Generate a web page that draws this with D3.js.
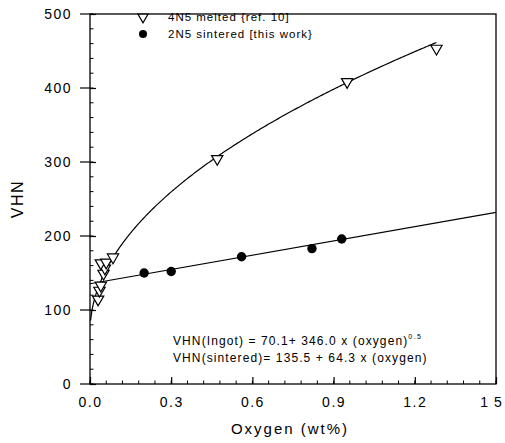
<!DOCTYPE html>
<html>
<head>
<meta charset="utf-8">
<script src="https://cdn.jsdelivr.net/npm/d3@7"></script>
<style>
  body { margin: 0; background: #fff; }
  svg { display: block; font-family: "Liberation Sans", Arial, sans-serif; }
</style>
</head>
<body>
<svg id="chart"></svg>
<script>
// data
const meltedOxygen = [0.030, 0.035, 0.040, 0.050, 0.055, 0.040, 0.060, 0.085, 0.47, 0.95, 1.28];
const meltedVHN    = [113,   125,   132,   148,   155,   162,   163,   170,   303,  407,  452];
const sinteredOxygen = [0.20, 0.30, 0.56, 0.82, 0.93];
const sinteredVHN    = [150,  152,  172,  183,  196];
const xTicks = [0.0, 0.3, 0.6, 0.9, 1.2, 1.5];
const xTickLabels = ["0.0", "0.3", "0.6", "0.9", "1.2", "1 5"];
const yTicks = [0, 100, 200, 300, 400, 500];
const legendLabels = ["4N5 melted {ref. 10]", "2N5 sintered [this work}"];

const width = 505, height = 443;
const margin = { left: 90, right: 9, top: 14, bottom: 59 };

const svg = d3.select("#chart")
    .attr("width", width)
    .attr("height", height);

const x = d3.scaleLinear().domain([0, 1.5]).range([margin.left, width - margin.right]);
const y = d3.scaleLinear().domain([0, 500]).range([height - margin.bottom, margin.top]);

// frame
svg.append("rect")
    .attr("x", x(0)).attr("y", y(500))
    .attr("width", x(1.5) - x(0)).attr("height", y(0) - y(500))
    .attr("fill", "none").attr("stroke", "#000").attr("stroke-width", 1.3);

// minor ticks (inward)
const xMinor = d3.range(0, 1.5001, 0.06);
const yMinor = d3.range(0, 500.1, 20);
svg.append("g").selectAll("line").data(xMinor).join("line")
    .attr("x1", d => x(d)).attr("x2", d => x(d))
    .attr("y1", y(0)).attr("y2", y(0) - 3.5)
    .attr("stroke", "#000");
svg.append("g").selectAll("line").data(yMinor).join("line")
    .attr("x1", x(0)).attr("x2", x(0) + 3.5)
    .attr("y1", d => y(d)).attr("y2", d => y(d))
    .attr("stroke", "#000");

// major axes
const xAxis = d3.axisBottom(x).tickValues(xTicks)
    .tickFormat((d, i) => xTickLabels[i]).tickSizeInner(-7).tickSizeOuter(0).tickPadding(13);
const yAxis = d3.axisLeft(y).tickValues(yTicks)
    .tickSizeInner(-6).tickSizeOuter(0).tickPadding(18);

const gx = svg.append("g").attr("transform", `translate(0,${y(0)})`).call(xAxis);
const gy = svg.append("g").attr("transform", `translate(${x(0)},0)`).call(yAxis);
[gx, gy].forEach(g => {
    g.select(".domain").remove();
    g.selectAll("line").attr("stroke", "#000").attr("stroke-width", 1.2);
    g.selectAll("text").attr("font-size", 14).attr("fill", "#000")
        .attr("letter-spacing", 1.5)
        .attr("font-family", "'Liberation Sans', Arial, sans-serif");
});
// last x label sits against the page edge
gx.selectAll(".tick text").filter(d => d === 1.5).attr("dx", -5).attr("letter-spacing", 1);

// outward stubs on y major ticks
svg.append("g").selectAll("line").data(yTicks).join("line")
    .attr("x1", x(0) - 10).attr("x2", x(0))
    .attr("y1", d => y(d)).attr("y2", d => y(d))
    .attr("stroke", "#000").attr("stroke-width", 1.2);

// axis titles
svg.append("text")
    .attr("transform", `translate(23,${(y(0) + y(500)) / 2}) rotate(-90)`)
    .attr("text-anchor", "middle")
    .attr("font-size", 16)
    .attr("letter-spacing", 1.5)
    .text("VHN");
svg.append("text")
    .attr("x", 290).attr("y", 434)
    .attr("text-anchor", "middle")
    .attr("font-size", 15)
    .attr("letter-spacing", 2)
    .text("Oxygen (wt%)");

// fit curves
const ingotFit = d3.range(0.002, 1.2801, 0.005).map(o => [o, 70.1 + 346.0 * Math.sqrt(o)]);
ingotFit.push([1.28, 70.1 + 346.0 * Math.sqrt(1.28)]);
const sinterFit = [[0, 135.5], [1.5, 135.5 + 64.3 * 1.5]];
const line = d3.line().x(d => x(d[0])).y(d => y(d[1]));
svg.append("path").datum(ingotFit).attr("d", line)
    .attr("fill", "none").attr("stroke", "#000").attr("stroke-width", 1.2);
svg.append("path").datum(sinterFit).attr("d", line)
    .attr("fill", "none").attr("stroke", "#000").attr("stroke-width", 1.2);

// markers
const tri = d3.symbol().type(d3.symbolTriangle).size(55);
const melted = meltedOxygen.map((o, i) => [o, meltedVHN[i]]);
const sintered = sinteredOxygen.map((o, i) => [o, sinteredVHN[i]]);

svg.append("g").selectAll("path").data(melted).join("path")
    .attr("d", tri)
    .attr("transform", d => `translate(${x(d[0])},${y(d[1]) - 1}) rotate(180)`)
    .attr("fill", "#fff").attr("stroke", "#000").attr("stroke-width", 1.2);

svg.append("g").selectAll("circle").data(sintered).join("circle")
    .attr("cx", d => x(d[0])).attr("cy", d => y(d[1]))
    .attr("r", 4.7).attr("fill", "#000");

// legend
svg.append("path").attr("d", d3.symbol().type(d3.symbolTriangle).size(45))
    .attr("transform", `translate(143,17) rotate(180)`)
    .attr("fill", "#fff").attr("stroke", "#000").attr("stroke-width", 1.2);
svg.append("circle").attr("cx", 143).attr("cy", 34).attr("r", 4).attr("fill", "#000");
svg.append("g").selectAll("text").data(legendLabels).join("text")
    .attr("x", 168).attr("y", (d, i) => 21 + i * 17)
    .attr("font-size", 11.5)
    .attr("letter-spacing", 1)
    .text(d => d);

// equations
const eq1 = svg.append("text").attr("x", 173).attr("y", 345)
    .attr("font-size", 12).attr("letter-spacing", 1.1);
eq1.append("tspan").text("VHN(Ingot) = 70.1+ 346.0 x (oxygen)");
eq1.append("tspan").attr("dy", -6).attr("font-size", 7).attr("letter-spacing", 1.5).text("0.5");
svg.append("text").attr("x", 173).attr("y", 362)
    .attr("font-size", 12).attr("letter-spacing", 1.1)
    .text("VHN(sintered)= 135.5 +  64.3 x (oxygen)");
</script>
</body>
</html>
